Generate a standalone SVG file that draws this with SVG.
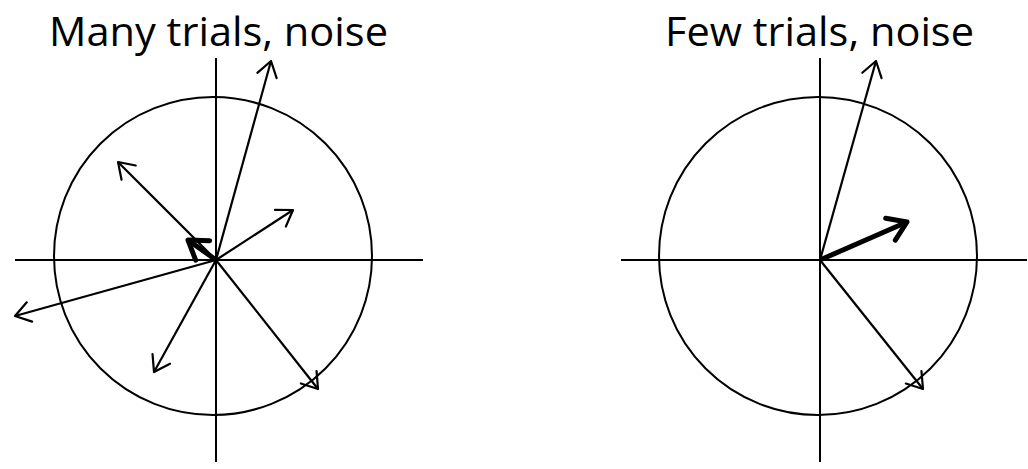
<svg xmlns="http://www.w3.org/2000/svg" width="1028" height="469" viewBox="0 0 1028 469">
<style>
.axis{stroke:#000;stroke-width:2;fill:none}
.circ{stroke:#000;stroke-width:2;fill:none}
.vec{stroke:#000;stroke-width:2.2;fill:none;marker-end:url(#head)}
.vecB{stroke:#000;stroke-width:5;fill:none;marker-end:url(#headB)}
.title{font-family:"Open Sans","Noto Sans",sans-serif;font-size:40px;fill:#000;text-anchor:middle}
</style>
<defs>
<marker id="head" markerUnits="userSpaceOnUse" viewBox="-20 -12 22 24" refX="0" refY="0" markerWidth="22" markerHeight="24" orient="auto" overflow="visible">
<path d="M-15,-10 L0,0 L-15,10" fill="none" stroke="#000" stroke-width="2.2" stroke-linecap="round" stroke-linejoin="round"/>
</marker>
<marker id="headB" markerUnits="userSpaceOnUse" viewBox="-22 -14 24 28" refX="0" refY="0" markerWidth="24" markerHeight="28" orient="auto" overflow="visible">
<path d="M-18,-12 L0,0 L-18,12" fill="none" stroke="#000" stroke-width="5" stroke-linecap="round" stroke-linejoin="round"/>
</marker>
</defs>
<g id="left-diagram">
<text class="title" x="218.5" y="46" textLength="339" lengthAdjust="spacingAndGlyphs">Many trials, noise</text>
<g id="left-circle"><circle class="circ" cx="213" cy="256" r="159"/></g>
<g id="left-axes"><line class="axis" x1="216" y1="58" x2="216" y2="462"/><line class="axis" x1="15" y1="260" x2="423" y2="260"/></g>
<g id="left-connectors">
<line class="vec" x1="216" y1="260" x2="271" y2="61"/>
<line class="vec" x1="216" y1="260" x2="118" y2="162"/>
<line class="vec" x1="216" y1="260" x2="293" y2="210"/>
<line class="vec" x1="216" y1="260" x2="15" y2="316"/>
<line class="vec" x1="216" y1="260" x2="154" y2="372"/>
<line class="vec" x1="216" y1="260" x2="318" y2="389"/>
<line class="vecB" x1="216" y1="260" x2="188" y2="240"/>
</g>
</g>
<g id="right-diagram">
<text class="title" x="819.5" y="46" textLength="309" lengthAdjust="spacingAndGlyphs">Few trials, noise</text>
<g id="right-circle"><circle class="circ" cx="818" cy="256" r="159"/></g>
<g id="right-axes"><line class="axis" x1="820" y1="58" x2="820" y2="462"/><line class="axis" x1="621" y1="260" x2="1027" y2="260"/></g>
<g id="right-connectors">
<line class="vec" x1="820" y1="260" x2="876" y2="61"/>
<line class="vec" x1="820" y1="260" x2="923" y2="389"/>
<line class="vecB" x1="820" y1="260" x2="907" y2="222"/>
</g>
</g>
</svg>
